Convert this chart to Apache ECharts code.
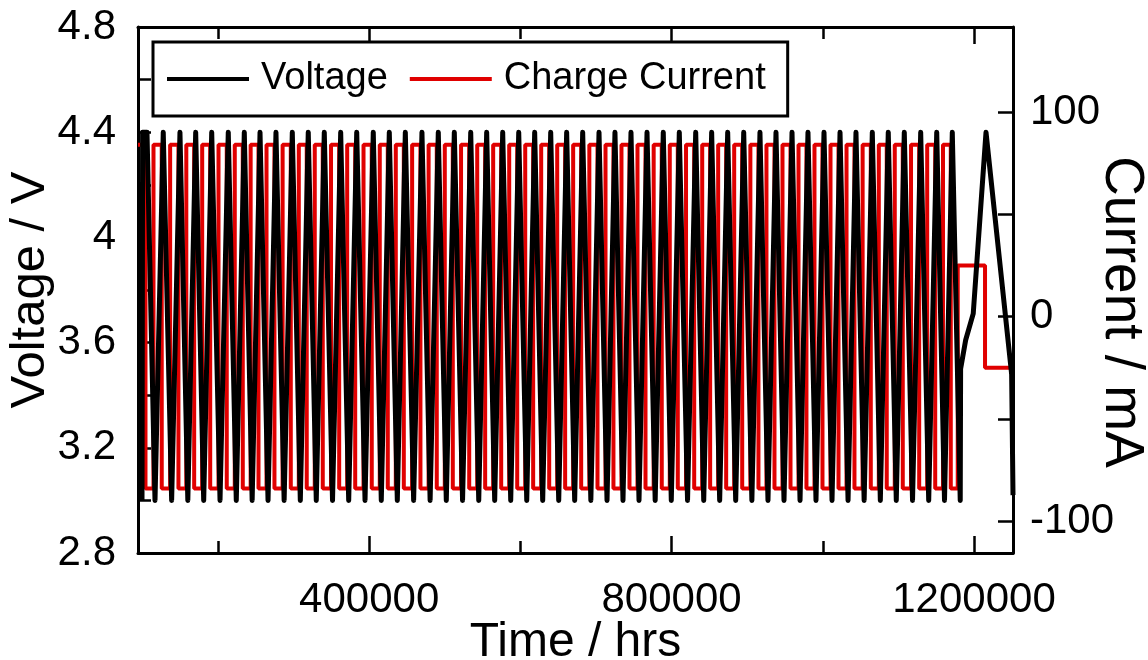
<!DOCTYPE html>
<html><head><meta charset="utf-8">
<script src="https://cdn.jsdelivr.net/npm/echarts@6/dist/echarts.min.js"></script>
<style>html,body{margin:0;padding:0;background:#fff}#c{width:1148px;height:660px}</style>
</head><body><div id="c"></div><script>
// ---- axis ranges & ticks ----
const X_MIN = 94200, X_MAX = 1251600;
const xTicks = [200000, 400000, 600000, 800000, 1000000, 1200000];
const xLabels = [400000, 800000, 1200000];
const yTicks = [2.8, 3.0, 3.2, 3.4, 3.6, 3.8, 4.0, 4.2, 4.4, 4.6, 4.8];
const yLabels = [2.8, 3.2, 3.6, 4, 4.4, 4.8];
const R_MIN = -115.5, R_MAX = 141.5;
const rTicks = [-100, -50, 0, 50, 100];
const rLabels = [-100, 0, 100];

// ---- voltage (V) ----
const V_HIGH = 4.40, V_LOW = 3.00;
const voltHeadTime = [99500, 100300];
const voltHeadValue = [3.00, 4.40];
const peakTimes = [106100, 127600, 149700, 170500, 191700, 213600, 234800, 255600, 276700, 298300, 319400,
  340600, 362300, 383500, 405400, 426600, 447800, 469800, 491400, 512600, 534300,
  555400, 576600, 597800, 618900, 640100, 661200, 682400, 704000, 725100, 746300,
  767500, 789000, 810200, 831900, 853000, 874200, 895400, 916900, 938100, 959300,
  980400, 1001600, 1022800, 1043900, 1065500, 1086600, 1107800, 1129500, 1150700, 1171300];
const troughTimes = [116700, 138700, 160100, 181100, 202700, 224200, 245200, 266200, 287500, 308900,
  330000, 351500, 372900, 394500, 416000, 437200, 458800, 480600, 502000, 523500,
  544900, 566000, 587200, 608400, 629500, 650700, 671800, 693200, 714600, 735700,
  756900, 778300, 799600, 821100, 842500, 863600, 884800, 906200, 927500, 948700,
  969900, 991000, 1012200, 1033400, 1054700, 1076100, 1097200, 1118700, 1140100, 1161000, 1181800];
const voltTailTime = [1182300, 1189000, 1199000, 1215900, 1249800, 1251600];
const voltTailValue = [3.50, 3.61, 3.71, 4.40, 3.48, 3.02];

// ---- charge current (mA) ----
const I_HIGH = 84, I_LOW = -84;
const chargeStartValue = I_HIGH;
const currentFallTimes = [104100, 125600, 147700, 168500, 189700, 211600, 232800, 253600, 274700, 296300, 317400,
  338600, 360300, 381500, 403400, 424600, 445800, 467800, 489400, 510600, 532300,
  553400, 574600, 595800, 616900, 638100, 659200, 680400, 702000, 723100, 744300,
  765500, 787000, 808200, 829900, 851000, 872200, 893400, 914900, 936100, 957300,
  978400, 999600, 1020800, 1041900, 1063500, 1084600, 1105800, 1127500, 1148700, 1169300];
const currentRiseTimes = [114700, 136700, 158100, 179100, 200700, 222200, 243200, 264200, 285500, 306900,
  328000, 349500, 370900, 392500, 414000, 435200, 456800, 478600, 500000, 521500,
  542900, 564000, 585200, 606400, 627500, 648700, 669800, 691200, 712600, 733700,
  754900, 776300, 797600, 819100, 840500, 861600, 882800, 904200, 925500, 946700,
  967900, 989000, 1010200, 1031400, 1052700, 1074100, 1095200, 1116700, 1138100, 1159000];
const currentTailTime = [1178500, 1214600, 1251600];
const currentTailValue = [25, -25, -25];

// ---- build series data ----
const voltData = [];
voltHeadTime.forEach((t, i) => voltData.push([t, voltHeadValue[i]]));
for (let i = 0; i < peakTimes.length; i++) {
  voltData.push([peakTimes[i], V_HIGH]);
  if (i < troughTimes.length) voltData.push([troughTimes[i], V_LOW]);
}
voltTailTime.forEach((t, i) => voltData.push([t, voltTailValue[i]]));

const currData = [[X_MIN, chargeStartValue]];
for (let i = 0; i < currentFallTimes.length; i++) {
  currData.push([currentFallTimes[i], I_LOW]);
  if (i < currentRiseTimes.length) currData.push([currentRiseTimes[i], I_HIGH]);
}
currentTailTime.forEach((t, i) => currData.push([t, currentTailValue[i]]));

const FONT = 'Liberation Sans, Arial, Helvetica, sans-serif';
const BLACK = '#000000', RED = '#e00000';
const axisLine = { show: true, onZero: false, lineStyle: { color: BLACK, width: 3 } };
const noLine = { show: false, onZero: false };
const tickStyle = { color: BLACK, width: 2.5 };
const labelFont = { fontSize: 42, color: BLACK, fontFamily: FONT };

function tickOnlyX(pos, ticks, len, showLine) {
  return {
    type: 'value', position: pos, min: X_MIN, max: X_MAX,
    axisLine: showLine ? axisLine : noLine, splitLine: { show: false },
    axisTick: { show: true, inside: true, length: len, lineStyle: tickStyle, customValues: ticks },
    axisLabel: { show: false }
  };
}
function tickOnlyY(pos, min, max, ticks, len) {
  return {
    type: 'value', position: pos, min: min, max: max,
    axisLine: noLine, splitLine: { show: false },
    axisTick: { show: true, inside: true, length: len, lineStyle: tickStyle, customValues: ticks },
    axisLabel: { show: false }
  };
}

const chart = echarts.init(document.getElementById('c'), null, { renderer: 'canvas' });
chart.setOption({
  animation: false,
  backgroundColor: '#ffffff',
  grid: { left: 138, right: 135, top: 27, bottom: 107, containLabel: false, outerBoundsMode: 'none' },
  legend: {
    left: 153, top: 42, orient: 'horizontal',
    data: ['Voltage', 'Charge Current'],
    icon: 'rect', itemWidth: 82, itemHeight: 4, itemGap: 22,
    backgroundColor: '#ffffff', borderColor: BLACK, borderWidth: 3, borderRadius: 0,
    padding: [18, 22, 18, 14],
    selectedMode: false,
    textStyle: { fontSize: 38, color: BLACK, fontFamily: FONT, padding: [0, 0, 0, 7] }
  },
  xAxis: [
    {
      type: 'value', position: 'bottom', min: X_MIN, max: X_MAX,
      axisLine: axisLine, splitLine: { show: false },
      axisTick: { show: true, inside: true, length: 17, lineStyle: tickStyle, customValues: xLabels },
      axisLabel: Object.assign({ customValues: xLabels, margin: 26, formatter: v => String(v) }, labelFont),
      name: 'Time / hrs', nameLocation: 'middle', nameGap: 66, nameMoveOverlap: false,
      nameTextStyle: { fontSize: 48, color: BLACK, fontFamily: FONT }
    },
    tickOnlyX('bottom', xTicks, 12, false),
    tickOnlyX('top', xTicks, 12, true),
    tickOnlyX('top', xLabels, 17, false)
  ],
  yAxis: [
    {
      type: 'value', position: 'left', min: 2.8, max: 4.8,
      axisLine: axisLine, splitLine: { show: false },
      axisTick: { show: true, inside: true, length: 13, lineStyle: tickStyle, customValues: yLabels },
      axisLabel: Object.assign({ customValues: yLabels, margin: 22, formatter: v => String(+v.toFixed(1)) }, labelFont),
      name: 'Voltage / V', nameLocation: 'middle', nameGap: 83, nameRotate: 90, nameMoveOverlap: false,
      nameTextStyle: { fontSize: 49, color: BLACK, fontFamily: FONT }
    },
    {
      type: 'value', position: 'right', min: R_MIN, max: R_MAX,
      axisLine: axisLine, splitLine: { show: false },
      axisTick: { show: true, inside: true, length: 15, lineStyle: tickStyle, customValues: rLabels },
      axisLabel: Object.assign({ customValues: rLabels, margin: 17, formatter: v => String(v) }, labelFont),
      name: 'Current / mA', nameLocation: 'middle', nameGap: 81, nameRotate: -90, nameMoveOverlap: false,
      nameTextStyle: { fontSize: 55, color: BLACK, fontFamily: FONT, padding: [0, 0, 0, 44] }
    },
    tickOnlyY('left', 2.8, 4.8, yTicks, 13),
    tickOnlyY('right', R_MIN, R_MAX, rTicks, 15)
  ],
  series: [
    {
      name: 'Voltage', type: 'line', xAxisIndex: 0, yAxisIndex: 0, data: voltData,
      symbol: 'none', showSymbol: false,
      lineStyle: { color: BLACK, width: 5, join: 'round' }, itemStyle: { color: BLACK }, z: 3
    },
    {
      name: 'Charge Current', type: 'line', xAxisIndex: 0, yAxisIndex: 1, data: currData, step: 'end',
      symbol: 'none', showSymbol: false,
      lineStyle: { color: RED, width: 4 }, itemStyle: { color: RED }, z: 2
    }
  ]
});
</script></body></html>
